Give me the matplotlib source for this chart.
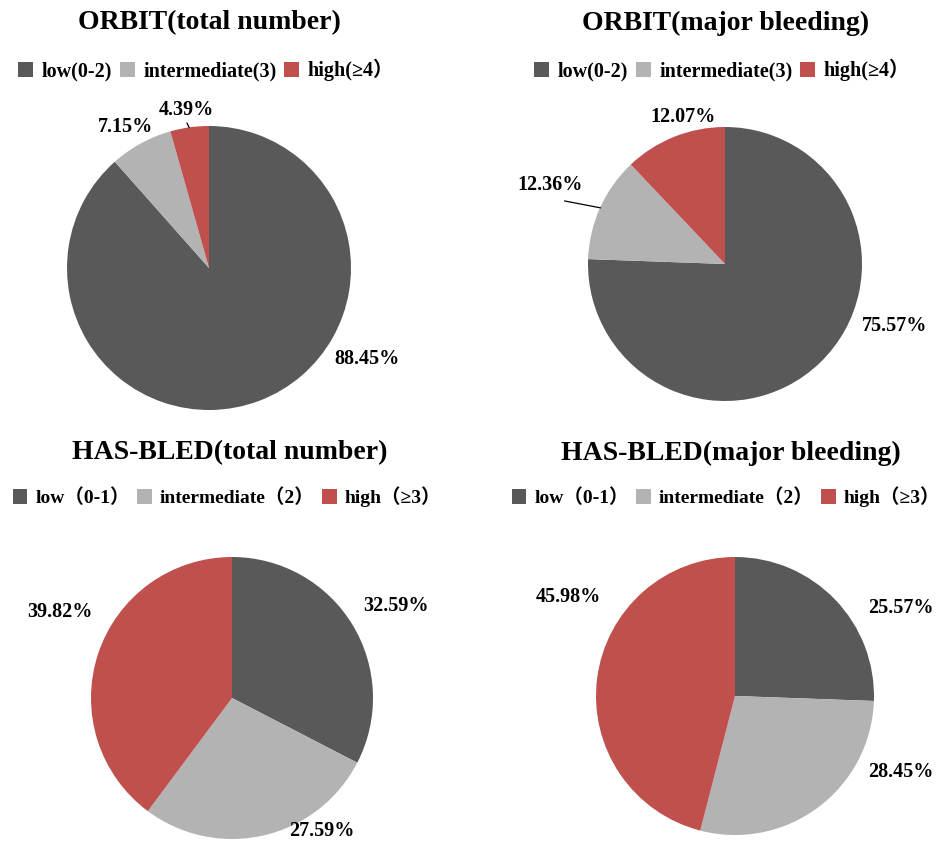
import matplotlib.pyplot as plt
import numpy as np

# data
titles = ["ORBIT(total number)", "ORBIT(major bleeding)",
          "HAS-BLED(total number)", "HAS-BLED(major bleeding)"]
orbit_labels = ["low(0-2)", "intermediate(3)", "high(≥4）"]
hasbled_labels = ["low（0-1）", "intermediate（2）", "high（≥3）"]
orbit_total = [88.45, 7.15, 4.39]
orbit_major = [75.57, 12.36, 12.07]
hasbled_total = [32.59, 27.59, 39.82]
hasbled_major = [25.57, 28.45, 45.98]

colors = ["#595959", "#b3b3b3", "#c0504d"]
FONT = ["Liberation Serif", "Noto Sans CJK SC"]
W, H = 950, 846

fig = plt.figure(figsize=(W / 100, H / 100), dpi=100)


def draw_pie(values, labels, title, center, radius, title_xy, legend_xy,
             label_pos, leaders, legend_size=14.5):
    span = 1.6
    size = 2 * span * radius
    ax = fig.add_axes([(center[0] - size / 2) / W, (H - center[1] - size / 2) / H,
                       size / W, size / H])
    wedges, _ = ax.pie(values, colors=colors, startangle=90, counterclock=False,
                       radius=1.0)
    ax.set_xlim(-span, span)
    ax.set_ylim(-span, span)
    ax.set_aspect("equal")
    ax.axis("off")
    for v, (x, y) in zip(values, label_pos):
        ax.text(x, y, f"{v:.2f}%", ha="center", va="center", fontsize=14.5,
                fontweight="bold", family=FONT)
    for (x0, y0, x1, y1) in leaders:
        ax.plot([x0, x1], [y0, y1], color="black", lw=0.9)
    fig.text(title_xy[0] / W, 1 - title_xy[1] / H, title, ha="center", va="center",
             fontsize=20, fontweight="bold", family=FONT)
    fig.legend(wedges, labels, loc="center",
               bbox_to_anchor=(legend_xy[0] / W, 1 - legend_xy[1] / H),
               ncol=3, frameon=False, handlelength=0.75, handleheight=0.75,
               handletextpad=0.4, columnspacing=0.4, borderpad=0.1,
               prop={"family": FONT, "weight": "bold", "size": legend_size})


draw_pie(orbit_total, orbit_labels, titles[0], (209, 268), 142, (209, 23), (206, 70),
         [(1.11, -0.64), (-0.59, 0.99), (-0.16, 1.11)],
         [(-0.155, 1.02, -0.14, 0.99)])
draw_pie(orbit_major, orbit_labels, titles[1], (725, 264), 137, (726, 23), (722, 70),
         [(1.24, -0.45), (-1.28, 0.58), (-0.31, 1.07)],
         [(-1.17, 0.46, -0.91, 0.41)])
draw_pie(hasbled_total, hasbled_labels, titles[2], (232, 698), 141, (230, 453), (227, 497),
         [(1.16, 0.65), (0.64, -0.94), (-1.22, 0.61)], [], legend_size=14)
draw_pie(hasbled_major, hasbled_labels, titles[3], (735, 696), 139, (731, 453), (726, 497),
         [(1.19, 0.63), (1.19, -0.55), (-1.20, 0.71)], [], legend_size=14)

fig.savefig("out.png", dpi=100)
